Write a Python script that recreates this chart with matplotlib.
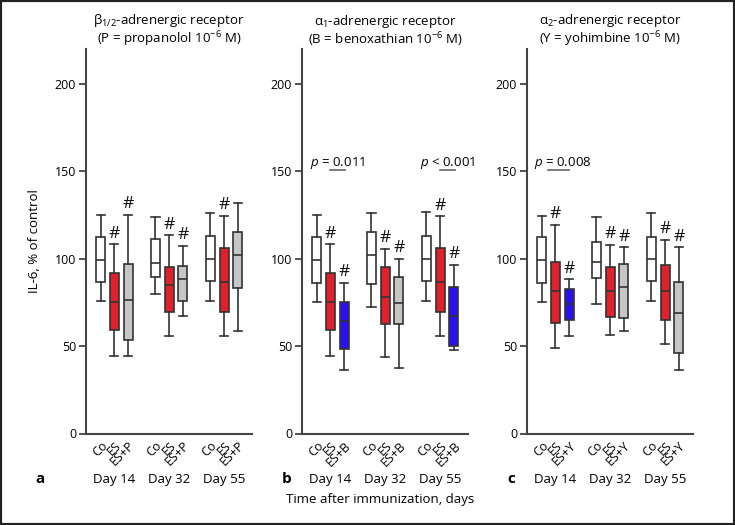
import matplotlib
matplotlib.use("Agg")
import matplotlib.pyplot as plt
from matplotlib.patches import Rectangle

plt.rcParams['font.family'] = ['Open Sans', 'DejaVu Sans']
plt.rcParams['mathtext.fontset'] = 'custom'
plt.rcParams['mathtext.rm'] = 'Open Sans'
plt.rcParams['mathtext.it'] = 'Open Sans:italic'
plt.rcParams['mathtext.bf'] = 'Open Sans:bold'
plt.rcParams['axes.unicode_minus'] = False

# ---------------- data ----------------
days = ["Day 14", "Day 32", "Day 55"]
positions = [0, 1, 2, 4, 5, 6, 8, 9, 10]

titles = ["β$_{\\mathrm{1/2}}$-adrenergic receptor" + "\n" + r"(P = propanolol 10$^{\mathrm{-6}}$ M)",
          "α$_{\\mathrm{1}}$-adrenergic receptor" + "\n" + r"(B = benoxathian 10$^{\mathrm{-6}}$ M)",
          "α$_{\\mathrm{2}}$-adrenergic receptor" + "\n" + r"(Y = yohimbine 10$^{\mathrm{-6}}$ M)"]
panel_letters = ["a", "b", "c"]
tick_labels = [["Co", "ES", "ES+P"] * 3,
               ["Co", "ES", "ES+B"] * 3,
               ["Co", "ES", "ES+Y"] * 3]

# panel a
a_lo = [75.8, 44.1, 44.1, 80.0, 55.9, 67.2, 76.0, 55.7, 58.4]
a_q1 = [86.5, 59.4, 53.6, 89.3, 69.3, 76.0, 87.4, 69.5, 83.0]
a_med = [99.4, 75.0, 76.1, 97.5, 84.7, 88.2, 99.8, 86.6, 102.3]
a_q3 = [112.2, 91.6, 97.1, 111.3, 95.2, 95.6, 112.8, 105.9, 115.5]
a_hi = [124.8, 108.2, 125.0, 123.9, 113.5, 107.3, 126.3, 124.4, 132.0]
a_hash = [0, 1, 1, 0, 1, 1, 0, 1, 0]
a_col = ["W", "R", "G", "W", "R", "G", "W", "R", "G"]

# panel b
b_lo = [75.4, 44.1, 36.6, 72.3, 43.5, 37.2, 76.0, 55.7, 47.5]
b_q1 = [86.3, 59.2, 48.3, 85.7, 62.8, 62.8, 87.2, 69.5, 49.8]
b_med = [99.2, 75.0, 64.3, 102.1, 78.2, 74.6, 99.8, 86.6, 67.0]
b_q3 = [112.4, 91.6, 75.2, 115.3, 95.2, 89.7, 112.8, 105.9, 84.0]
b_hi = [124.8, 108.2, 86.1, 126.0, 105.7, 100.0, 126.5, 124.2, 96.6]
b_hash = [0, 1, 1, 0, 1, 1, 0, 1, 1]
b_col = ["W", "R", "B", "W", "R", "G", "W", "R", "B"]

# panel c
c_lo = [75.4, 49.0, 55.9, 74.2, 56.1, 58.4, 76.0, 51.0, 36.5]
c_q1 = [86.3, 63.2, 65.1, 88.7, 66.6, 66.0, 87.2, 64.7, 46.0]
c_med = [99.0, 81.7, 73.9, 97.9, 81.7, 83.6, 99.8, 81.7, 68.7]
c_q3 = [112.4, 97.9, 82.6, 109.4, 95.0, 96.8, 112.6, 96.6, 86.8]
c_hi = [124.6, 119.3, 88.2, 124.0, 108.0, 106.5, 126.3, 110.9, 106.5]
c_hash = [0, 1, 1, 0, 1, 1, 0, 1, 1]
c_col = ["W", "R", "B", "W", "R", "G", "W", "R", "G"]

# p-value annotations: (panel, text, x-start, x-end, y)
p_panel = [1, 1, 2]
p_text = [r"$p$ = 0.011", r"$p$ < 0.001", r"$p$ = 0.008"]
p_x0 = [0.95, 8.97, 0.44]
p_x1 = [2.1, 10.07, 1.97]
p_y = [151.0, 151.0, 151.0]

colormap = {"W": "#ffffff", "R": "#e0202a", "G": "#c6c6c6", "B": "#2b10f2"}
edge = "#333333"

panels = [
    (a_lo, a_q1, a_med, a_q3, a_hi, a_hash, a_col),
    (b_lo, b_q1, b_med, b_q3, b_hi, b_hash, b_col),
    (c_lo, c_q1, c_med, c_q3, c_hi, c_hash, c_col),
]

fig = plt.figure(figsize=(7.35, 5.25), dpi=100)
W, H = 735, 525
lefts = [86, 302, 527]
ax_w = 166
bottom_px, top_px = 433.5, 49
letter_x = [40, 287, 511]

axes = []
for i, (lo, q1, med, q3, hi, hs, cols) in enumerate(panels):
    ax = fig.add_axes([lefts[i] / W, 1 - bottom_px / H, ax_w / W, (bottom_px - top_px) / H])
    axes.append(ax)
    stats = []
    for j in range(len(positions)):
        stats.append(dict(whislo=lo[j], q1=q1[j], med=med[j], q3=q3[j], whishi=hi[j], fliers=[]))
    bp = ax.bxp(stats, positions=positions, widths=0.66, patch_artist=True,
                showfliers=False, capwidths=0.6,
                boxprops=dict(edgecolor=edge, linewidth=1.2),
                medianprops=dict(color=edge, linewidth=1.2),
                whiskerprops=dict(color=edge, linewidth=1.2),
                capprops=dict(color=edge, linewidth=1.2))
    for patch, c in zip(bp['boxes'], cols):
        patch.set_facecolor(colormap[c])
    for j, h in enumerate(hs):
        if h:
            ax.text(positions[j], hi[j] + 1.5, "#", ha='center', va='bottom',
                    fontsize=12.5, color='#111111')
    ax.set_xlim(-1.07, 11.04)
    ax.set_ylim(0, 220)
    ax.set_yticks([0, 50, 100, 150, 200])
    ax.set_xticks(positions)
    ax.set_xticklabels(tick_labels[i], rotation=45, ha='right', rotation_mode='anchor',
                       fontsize=9)
    ax.tick_params(axis='x', length=0, pad=4)
    ax.tick_params(axis='y', length=5, width=1.2, color=edge, labelsize=9, pad=2)
    for s in ['top', 'right']:
        ax.spines[s].set_visible(False)
    for s in ['left', 'bottom']:
        ax.spines[s].set_color('#444444')
        ax.spines[s].set_linewidth(1.5)
    ax.text(0.5, 1.0, titles[i], transform=ax.transAxes, ha='center', va='bottom',
            fontsize=9.5, linespacing=1.0)
    for g, d in enumerate(days):
        ax.text(positions[g * 3 + 1], -(479 - bottom_px) / (bottom_px - top_px), d,
                transform=ax.get_xaxis_transform(),
                ha='center', va='center', fontsize=9.5)
    fig.text(letter_x[i] / W, 1 - 479 / H, panel_letters[i], ha='center', va='center',
             fontsize=11, fontweight='bold')

for k in range(len(p_text)):
    ax = axes[p_panel[k]]
    ax.plot([p_x0[k], p_x1[k]], [p_y[k], p_y[k]], color='#666666', lw=1.2)
    ax.text(p_x0[k] - 1.45 if k != 2 else p_x0[k] - 1.0, p_y[k] + 4, p_text[k],
            ha='left', va='center', fontsize=9.5)

axes[0].set_ylabel("IL-6, % of control", fontsize=9.5, labelpad=10)

fig.text(380 / W, 1 - 499 / H, "Time after immunization, days", ha='center', va='center',
         fontsize=9.5)

fig.patches.append(Rectangle((0, 0), 1, 1, transform=fig.transFigure, fill=False,
                             edgecolor='#222222', linewidth=3))

fig.savefig("out.png", dpi=100)
